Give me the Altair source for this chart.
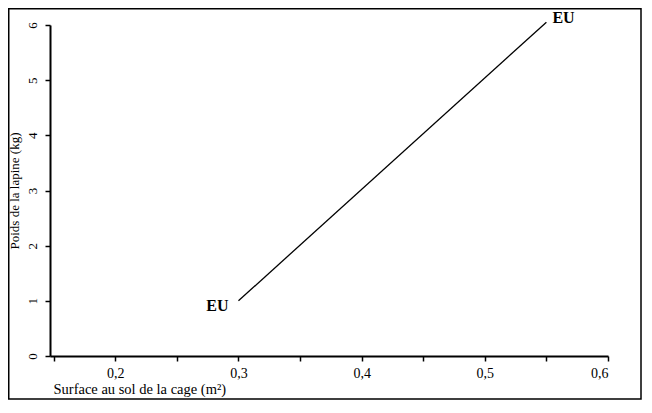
import altair as alt
import pandas as pd

# Data
surface = [0.30, 0.55]          # m²
poids = [1.0, 6.05]             # kg
labels = ["EU", "EU"]
label_dx = [-10, 6]
label_dy = [5, -4]
label_align = ["right", "left"]

x_ticks = [0.15, 0.2, 0.25, 0.3, 0.35, 0.4, 0.45, 0.5, 0.55, 0.6]
y_ticks = [0, 0.5, 1, 1.5, 2, 2.5, 3, 3.5, 4, 4.5, 5, 5.5, 6]

df = pd.DataFrame({"surface": surface, "poids": poids})
lab_start = pd.DataFrame({"surface": [surface[0]], "poids": [poids[0]], "t": [labels[0]]})
lab_end = pd.DataFrame({"surface": [surface[1]], "poids": [poids[1]], "t": [labels[1]]})

FONT = "Liberation Serif"
W, H = 558, 331

xscale = alt.Scale(domain=[0.147, 0.6], nice=False, zero=False)
yscale = alt.Scale(domain=[0, 6], nice=False)

xaxis = alt.Axis(
    values=x_ticks,
    labelExpr="abs(round(datum.value*20)) % 2 == 0 && datum.value > 0.17 ? replace(format(datum.value, '.1f'), '.', ',') : ''",
    grid=False, domainColor="black", domainWidth=2, tickColor="black", tickWidth=1.5,
    tickSize=5, labelPadding=5, labelFont=FONT, labelFontSize=14, labelColor="black",
    title="Surface au sol de la cage (m²)", titleFont=FONT, titleFontSize=14.5,
    titleFontWeight="normal", titleColor="black", titleAnchor="start",
    titleAlign="left", titleX=3, titleY=33, titleBaseline="middle",
)
yaxis = alt.Axis(
    values=y_ticks,
    labelExpr="datum.value % 1 == 0 ? format(datum.value, 'd') : ''",
    grid=False, domainColor="black", domainWidth=2, tickColor="black", tickWidth=1.5,
    tickSize=5, labelPadding=6, labelAngle=270, labelFont=FONT, labelFontSize=13,
    labelColor="black",
    title="Poids de la lapine (kg)", titleFont=FONT, titleFontSize=13,
    titleFontWeight="normal", titleColor="black", titlePadding=5,
)

line = alt.Chart(df).mark_line(color="black", strokeWidth=1.3).encode(
    x=alt.X("surface:Q", scale=xscale, axis=xaxis),
    y=alt.Y("poids:Q", scale=yscale, axis=yaxis),
)

t1 = alt.Chart(lab_start).mark_text(
    font=FONT, fontSize=16, fontWeight="bold", color="black",
    align=label_align[0], baseline="middle", dx=label_dx[0], dy=label_dy[0],
).encode(x="surface:Q", y="poids:Q", text="t:N")

t2 = alt.Chart(lab_end).mark_text(
    font=FONT, fontSize=16, fontWeight="bold", color="black",
    align=label_align[1], baseline="middle", dx=label_dx[1], dy=label_dy[1],
).encode(x="surface:Q", y="poids:Q", text="t:N")

frame = alt.Chart(pd.DataFrame({"a": [0]})).mark_rect(
    fill=None, stroke="black", strokeWidth=1.5
).encode(
    x=alt.value(-41.25), x2=alt.value(W + 33),
    y=alt.value(-16.25), y2=alt.value(H + 43),
)

chart = alt.layer(frame, line, t1, t2).properties(
    width=W, height=H,
    autosize=alt.AutoSizeParams(type="none"),
    padding={"left": 42, "top": 17, "right": 34, "bottom": 44},
    background="white",
).configure_view(stroke=None)

chart.save("out.html", embed_options={"renderer": "svg", "actions": False})
